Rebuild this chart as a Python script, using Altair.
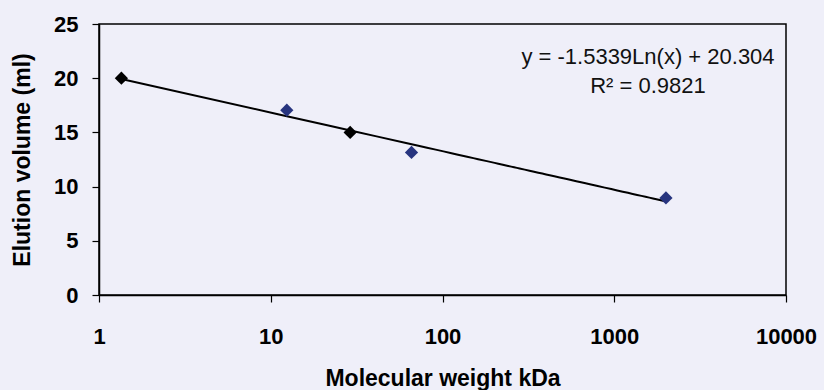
import altair as alt
import pandas as pd

# Data
mol_weight = [1.35, 12.4, 29, 66, 2000]          # kDa
elution_ml = [20.0, 17.05, 15.0, 13.15, 8.95]    # ml
series = ["std_a", "std_b", "std_a", "std_b", "std_b"]

x_ticks = [1, 10, 100, 1000, 10000]
y_ticks = [0, 5, 10, 15, 20, 25]

eq_text = ["y = -1.5339Ln(x) + 20.304", "R\u00b2 = 0.9821"]
eq_x = [1572, 1572]
eq_y = [21.95, 19.3]

df = pd.DataFrame({"mw": mol_weight, "ve": elution_ml, "series": series})
df_eq = pd.DataFrame({"t": eq_text, "x": eq_x, "y": eq_y})

FONT = "Liberation Sans"

xscale = alt.Scale(type="log", domain=[1, 10000], nice=False)
yscale = alt.Scale(domain=[0, 25], nice=False)

xaxis = alt.Axis(
    title="Molecular weight kDa", values=x_ticks, format="d", grid=False,
    tickSize=7, tickColor="black", tickWidth=1.2, domainColor="black", domainWidth=1.5,
    labelFontSize=22, labelFont=FONT, labelFontWeight="bold", labelColor="black",
    labelPadding=24, labelFlush=False,
    titleFontSize=23, titleFont=FONT, titleFontWeight="bold", titleColor="black",
    titleY=83, titleBaseline="middle",
)
yaxis = alt.Axis(
    title="Elution volume (ml)", values=y_ticks, grid=False,
    tickSize=7, tickColor="black", tickWidth=1.2, domainColor="black", domainWidth=1.5,
    labelFontSize=22, labelFont=FONT, labelFontWeight="bold", labelColor="black",
    labelPadding=14,
    titleFontSize=23, titleFont=FONT, titleFontWeight="bold", titleColor="black",
    titleX=-77, titleBaseline="middle",
)

base = alt.Chart(df)

trend = base.transform_regression("mw", "ve", method="log").mark_line(
    color="black", strokeWidth=2
).encode(
    x=alt.X("mw:Q", scale=xscale, axis=xaxis),
    y=alt.Y("ve:Q", scale=yscale, axis=yaxis),
)

points = base.mark_point(shape="diamond", filled=True, size=175, opacity=1).encode(
    x=alt.X("mw:Q", scale=xscale),
    y=alt.Y("ve:Q", scale=yscale),
    color=alt.Color("series:N",
                    scale=alt.Scale(domain=["std_a", "std_b"], range=["#000000", "#27347f"]),
                    legend=None),
)

eq = alt.Chart(df_eq).mark_text(font=FONT, fontSize=22, color="#111111", align="center",
                                baseline="middle").encode(
    x=alt.X("x:Q", scale=xscale),
    y=alt.Y("y:Q", scale=yscale),
    text="t:N",
)

chart = alt.layer(trend, points, eq).properties(
    width=687, height=271,
    background="#efeff9",
    padding={"left": 99, "top": 24, "right": 38, "bottom": 95},
    autosize=alt.AutoSizeParams(type="none"),
).configure_view(stroke="black", strokeWidth=1.5)

chart.save("out.html", embed_options={"renderer": "svg", "actions": False})
